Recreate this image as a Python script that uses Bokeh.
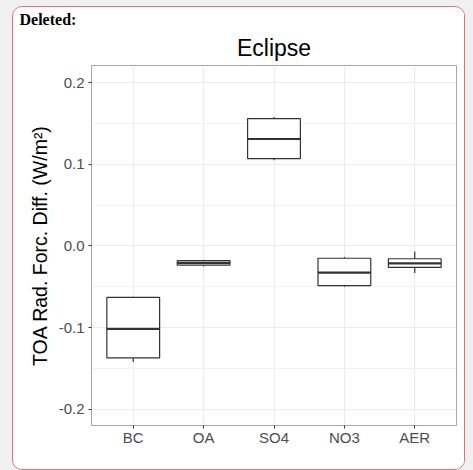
from bokeh.plotting import figure
from bokeh.models import (ColumnDataSource, FactorRange, Range1d, FixedTicker,
                          Title)
from bokeh.embed import file_html
from bokeh.resources import INLINE

categories = ["BC", "OA", "SO4", "NO3", "AER"]
whisker_low = [-0.142, -0.025, 0.105, -0.050, -0.033]
q1 = [-0.137, -0.0235, 0.107, -0.0486, -0.0263]
median = [-0.1016, -0.0206, 0.131, -0.0325, -0.0214]
q3 = [-0.063, -0.018, 0.156, -0.015, -0.0156]
whisker_high = [-0.062, -0.017, 0.158, -0.0136, -0.0066]
y_ticks = [-0.2, -0.1, 0.0, 0.1, 0.2]
y_minor = [-0.15, -0.05, 0.05, 0.15]
y_labels = {-0.2: "-0.2", -0.1: "-0.1", 0.0: "0.0", 0.1: "0.1", 0.2: "0.2"}

src = ColumnDataSource(dict(cat=categories, lo=whisker_low, q1=q1, med=median,
                            q3=q3, hi=whisker_high))

p = figure(width=453, height=464, output_backend="svg", toolbar_location=None,
           x_range=FactorRange(factors=categories, range_padding=0.093,
                               range_padding_units="absolute"),
           y_range=Range1d(-0.2198, 0.221),
           min_border_left=78, min_border_right=10, min_border_top=58,
           min_border_bottom=46)

p.margin = (6, 0, 0, 12)
p.styles = {"border": "1.5px solid #df7377", "border-radius": "10px",
            "overflow": "hidden", "box-shadow": "0 0 0 40px #f0f0f0",
            "background-color": "white"}

p.border_fill_color = "white"
p.background_fill_color = "white"
p.outline_line_color = "#a6a6a6"
p.outline_line_width = 1

# outer (top-most) heading
p.title.text = "Deleted:"
p.title.align = "left"
p.title.offset = -72
p.title.text_font = "Liberation Serif"
p.title.text_font_style = "bold"
p.title.text_font_size = "16px"
p.title.text_color = "black"
p.title.standoff = 0

# chart title (closer to the frame)
p.add_layout(Title(text="Eclipse", align="center",
                   text_font="Liberation Sans", text_font_style="normal",
                   text_font_size="23px", text_color="black", standoff=10,
                   text_line_height=1.0),
             "above")

# grid
p.xgrid.grid_line_color = "#ebebeb"
p.xgrid.grid_line_width = 1
p.ygrid.ticker = FixedTicker(ticks=y_ticks, minor_ticks=y_minor)
p.ygrid.grid_line_color = "#ebebeb"
p.ygrid.grid_line_width = 1
p.ygrid.minor_grid_line_color = "#f2f2f2"
p.ygrid.minor_grid_line_width = 1

# axes
for ax in (p.xaxis[0], p.yaxis[0]):
    ax.axis_line_color = None
    ax.major_tick_line_color = "#333333"
    ax.major_tick_out = 3
    ax.major_tick_in = 0
    ax.minor_tick_line_color = None
    ax.major_label_text_font = "Liberation Sans"
    ax.major_label_text_font_size = "15px"
    ax.major_label_text_color = "#4d4d4d"
    ax.major_label_standoff = 3

p.xaxis[0].major_label_standoff = 0

p.yaxis[0].ticker = FixedTicker(ticks=y_ticks, minor_ticks=y_minor)
p.yaxis[0].major_label_overrides = y_labels
p.yaxis[0].axis_label = "TOA Rad. Forc. Diff. (W/m\u00b2)"
p.yaxis[0].axis_label_text_font = "Liberation Sans"
p.yaxis[0].axis_label_text_font_size = "19.5px"
p.yaxis[0].axis_label_text_font_style = "normal"
p.yaxis[0].axis_label_text_color = "black"
p.yaxis[0].axis_label_standoff = 5

# whiskers
p.segment(x0="cat", x1="cat", y0="q3", y1="hi", source=src,
          line_color="#333333", line_width=1.2)
p.segment(x0="cat", x1="cat", y0="lo", y1="q1", source=src,
          line_color="#333333", line_width=1.2)
# boxes
p.vbar(x="cat", width=0.75, top="q3", bottom="q1", source=src,
       fill_color="white", line_color="#333333", line_width=1.2)
# medians
p.vbar(x="cat", width=0.75, top="med", bottom="med", source=src,
       fill_color=None, line_color="#333333", line_width=2.2)

open("out.html", "w").write(file_html(p, INLINE))
